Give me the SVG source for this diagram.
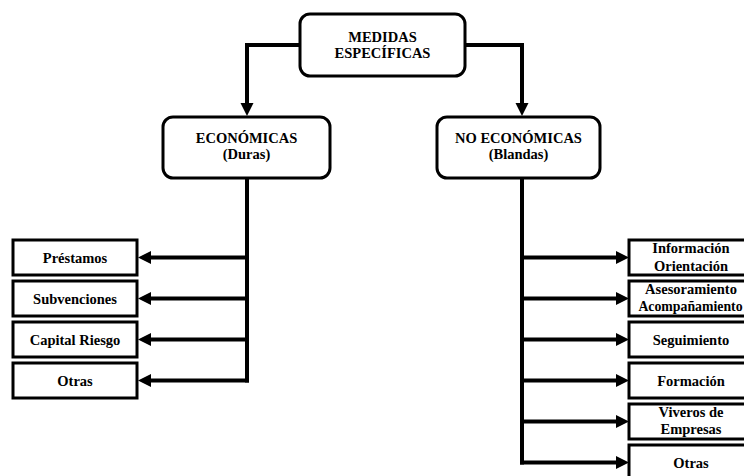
<svg xmlns="http://www.w3.org/2000/svg" width="744" height="476" viewBox="0 0 744 476">
  <style>
    .box { fill: #fff; stroke: #000; stroke-width: 3; }
    .lbl { font-family: "Liberation Serif", "Times New Roman", serif; font-weight: bold; font-size: 14.5px; text-anchor: middle; fill: #000; }
    .wire { fill: none; stroke: #000; stroke-width: 4; stroke-linejoin: miter; marker-end: url(#head); }
    .trunk { fill: none; stroke: #000; stroke-width: 4; }
  </style>
  <defs>
    <marker id="head" markerUnits="userSpaceOnUse" markerWidth="14" markerHeight="13" refX="0" refY="6.5" orient="auto" overflow="visible">
      <path d="M0,0 L13,6.5 L0,13 z" fill="#000"/>
    </marker>
  </defs>
  <rect width="744" height="476" fill="#fff"/>

  <g id="connectors">
    <path class="wire" d="M300,45 H247 V103"/>
    <path class="wire" d="M465,45 H522 V103"/>
    <path class="trunk" d="M247,178 V382.5"/>
    <path class="wire" d="M249,257.5 H151"/>
    <path class="wire" d="M249,298.5 H151"/>
    <path class="wire" d="M249,339.5 H151"/>
    <path class="wire" d="M249,380.5 H151"/>
    <path class="trunk" d="M522,178 V464.5"/>
    <path class="wire" d="M520,257.5 H616"/>
    <path class="wire" d="M520,298.5 H616"/>
    <path class="wire" d="M520,339.5 H616"/>
    <path class="wire" d="M520,380.5 H616"/>
    <path class="wire" d="M520,421.5 H616"/>
    <path class="wire" d="M520,462.5 H616"/>
  </g>

  <g id="medidas">
    <rect class="box" x="300" y="14" width="165" height="62" rx="10"/>
    <text class="lbl" x="382.5" y="42">MEDIDAS</text>
    <text class="lbl" x="382.5" y="58">ESPECÍFICAS</text>
  </g>
  <g id="economicas">
    <rect class="box" x="163" y="117" width="167" height="61" rx="10"/>
    <text class="lbl" x="246.5" y="143">ECONÓMICAS</text>
    <text class="lbl" x="246.5" y="159">(Duras)</text>
  </g>
  <g id="no-economicas">
    <rect class="box" x="437" y="117" width="163" height="61" rx="10"/>
    <text class="lbl" x="518.5" y="143">NO ECONÓMICAS</text>
    <text class="lbl" x="518.5" y="159">(Blandas)</text>
  </g>

  <g id="prestamos">
    <rect class="box" x="13" y="240" width="124" height="35"/>
    <text class="lbl" x="75" y="262.5">Préstamos</text>
  </g>
  <g id="subvenciones">
    <rect class="box" x="13" y="281" width="124" height="35"/>
    <text class="lbl" x="75" y="303.5">Subvenciones</text>
  </g>
  <g id="capital-riesgo">
    <rect class="box" x="13" y="322" width="124" height="35"/>
    <text class="lbl" x="75" y="344.5">Capital Riesgo</text>
  </g>
  <g id="otras-economicas">
    <rect class="box" x="13" y="363" width="124" height="35"/>
    <text class="lbl" x="75" y="385.5">Otras</text>
  </g>

  <g id="informacion">
    <rect class="box" x="629" y="240" width="124" height="35"/>
    <text class="lbl" x="691" y="253">Información</text>
    <text class="lbl" x="691" y="271">Orientación</text>
  </g>
  <g id="asesoramiento">
    <rect class="box" x="629" y="281" width="124" height="35"/>
    <text class="lbl" x="691" y="294">Asesoramiento</text>
    <text class="lbl" x="690.5" y="311" style="font-size:13.8px">Acompañamiento</text>
  </g>
  <g id="seguimiento">
    <rect class="box" x="629" y="322" width="124" height="35"/>
    <text class="lbl" x="691" y="344.5">Seguimiento</text>
  </g>
  <g id="formacion">
    <rect class="box" x="629" y="363" width="124" height="35"/>
    <text class="lbl" x="691" y="385.5">Formación</text>
  </g>
  <g id="viveros">
    <rect class="box" x="629" y="404" width="124" height="35"/>
    <text class="lbl" x="691" y="417">Viveros de</text>
    <text class="lbl" x="691" y="434">Empresas</text>
  </g>
  <g id="otras-no-economicas">
    <rect class="box" x="629" y="445" width="124" height="35"/>
    <text class="lbl" x="691" y="467.5">Otras</text>
  </g>
</svg>
